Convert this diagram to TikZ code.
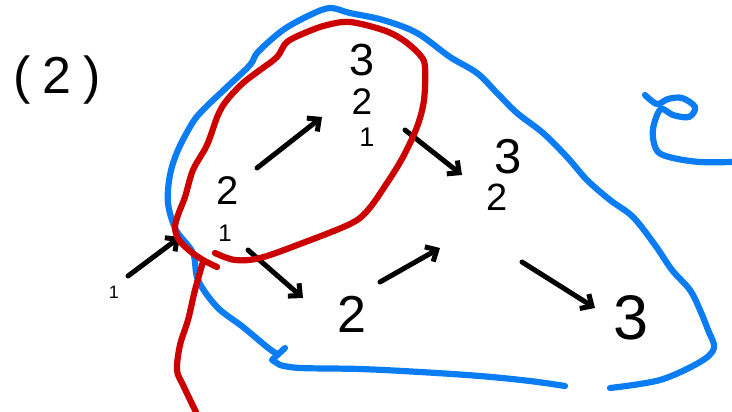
\documentclass[tikz,border=0pt]{standalone}
\usepackage{fontspec}
\setmainfont{Liberation Sans}
\usetikzlibrary{calc,arrows.meta}
\definecolor{penblue}{RGB}{10,125,245}
\definecolor{penred}{RGB}{205,0,0}
\newcommand\hsz[1]{\fontsize{#1}{#1}\selectfont}
\begin{document}
\begin{tikzpicture}[x=1pt,y=-1pt,line cap=round,line join=round,
  lbl/.style={inner sep=0pt,text=black},
  ink/.style={line width=5pt,black},
  arr/.style={ink,-{Straight Barb[length=9pt,width=17pt]}},
  bluepen/.style={line width=6.2pt,penblue},
  redpen/.style={line width=6.2pt,penred}]
\fill[white] (0,0) rectangle (732,412);
\useasboundingbox (0,0) rectangle (732,412);

% blue region
\draw[bluepen] plot[smooth,tension=0.55] coordinates {(277,354) (267,347) (243,327) (217,307) (198,280) (193,253) (176,230) (168,203) (170,175) (178,150) (193,122) (205,108) (227,87) (250,65) (258,52) (283,30) (310,15) (330,8) (350,13) (383,20) (417,33) (450,57) (477,73) (497,93) (517,113) (543,133) (567,157) (587,180) (610,200) (633,217) (655,245) (672,270) (690,290) (700,310) (708,330) (714,348) (700,362) (660,380) (610,388)};
\draw[bluepen] plot[smooth,tension=0.55] coordinates {(565,386) (530,381) (480,376) (420,372) (360,369) (300,368) (280,365)} -- (272,360) -- (285,348);
\draw[bluepen] plot[smooth,tension=0.55] coordinates {(645,95) (657,104) (668,99) (682,98) (695,107) (689,117) (673,115) (661,109) (654,124) (653,138) (658,152) (673,158) (700,162) (732,162)};

% labels
\node[lbl] (par) at (57,80) {\hsz{52}(\hspace{12pt}2\hspace{12pt})};
\node[lbl] (t3) at (362,60) {\hsz{45}3};
\node[lbl] (t2) at (362,102) {\hsz{37}2};
\node[lbl] (t1) at (367,137) {\hsz{27}1};
\node[lbl] (l2) at (228,191) {\hsz{40}2};
\node[lbl] (l1) at (225,233) {\hsz{24}1};
\node[lbl] (bl1) at (114,292) {\hsz{18}1};
\node[lbl] (r3) at (508,157) {\hsz{49}3};
\node[lbl] (r2) at (497,197) {\hsz{38}2};
\node[lbl] (b2) at (352,314) {\hsz{52}2};
\node[lbl] (br3) at (631,318) {\hsz{63}3};

% connectors
\draw[arr] ($(l2)+(29,-23)$) -- ($(t2)+(-40,15)$);
\draw[arr] ($(t1)+(38,-7)$) -- ($(r3)+(-46,18)$);
\draw[arr] ($(bl1)+(14,-16)$) -- ($(l1)+(-45,4)$);
\draw[arr] ($(l1)+(23,17)$) -- ($(b2)+(-49,-16)$);
\draw[arr] ($(b2)+(28,-32)$) -- ($(r2)+(-57,51)$);
\draw[arr] ($(r2)+(25,65)$) -- ($(br3)+(-36,-10)$);

% red region
\draw[redpen] plot[smooth,tension=0.55] coordinates {(215,253) (235,260) (260,258) (300,244) (350,224) (368,210) (387,183) (403,157) (417,127) (424,100) (425,67) (420,55) (403,40) (383,30) (350,22) (327,25) (307,32) (287,42) (277,57) (260,70) (243,83) (227,100) (218,115) (207,145) (193,170) (185,197) (178,215) (175,228) (179,240) (190,251) (203,260) (217,267)};
\draw[redpen] plot[smooth,tension=0.55] coordinates {(203,262) (195,290) (188,320) (180,345) (177,370) (183,385) (196,412)};
\end{tikzpicture}
\end{document}
